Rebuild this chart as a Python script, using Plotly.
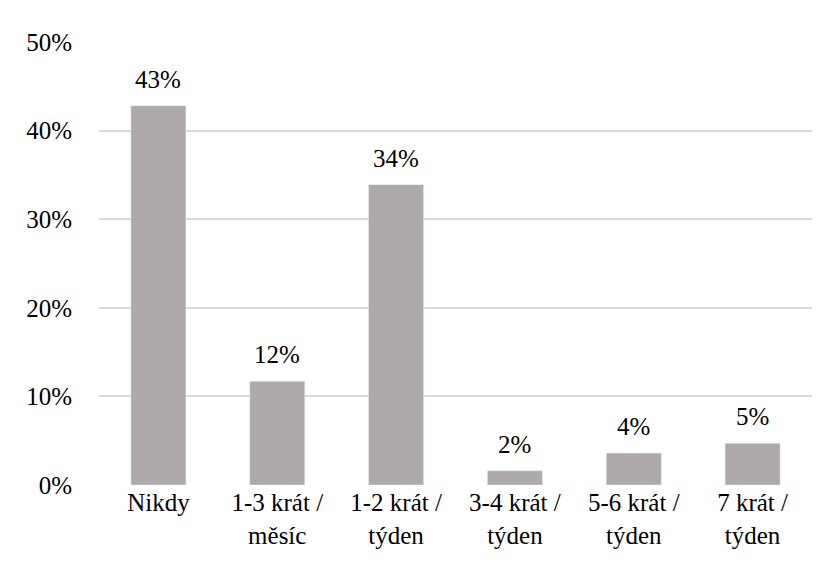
import plotly.graph_objects as go

# Frequency categories (x axis) and share of respondents
categories = ["Nikdy", "1-3 krát /<br>měsíc", "1-2 krát /<br>týden",
              "3-4 krát /<br>týden", "5-6 krát /<br>týden", "7 krát /<br>týden"]
shares = [0.428, 0.117, 0.339, 0.016, 0.036, 0.047]
y_ticks = [0, 0.1, 0.2, 0.3, 0.4, 0.5]

FONT = "Liberation Serif"
GRID = "#D9D9D9"
BAR = "#ADAAA9"
FS = 25

fig = go.Figure(go.Bar(
    x=categories, y=shares, width=0.463,
    marker=dict(color=BAR),
    showlegend=False,
))

# Value labels above the bars
annotations = [
    dict(x=c, y=v, text=f"{round(v * 100):d}%", showarrow=False,
         xref="x", yref="y", yanchor="bottom", yshift=11,
         font=dict(family=FONT, size=FS, color="black"))
    for c, v in zip(categories, shares)
]

fig.update_layout(
    width=829, height=571,
    margin=dict(l=99, r=17, t=42, b=86),
    paper_bgcolor="white", plot_bgcolor="white",
    annotations=annotations,
)

fig.update_xaxes(
    showgrid=False,
    tickfont=dict(family=FONT, size=FS, color="black"),
)

fig.update_yaxes(
    range=[0, 0.5],
    tickvals=y_ticks, tickformat=".0%",
    showgrid=True, gridcolor=GRID, gridwidth=1.5,
    zeroline=False,
    ticklabelstandoff=26,
    tickfont=dict(family=FONT, size=FS, color="black"),
)

fig.write_html("out.html")
